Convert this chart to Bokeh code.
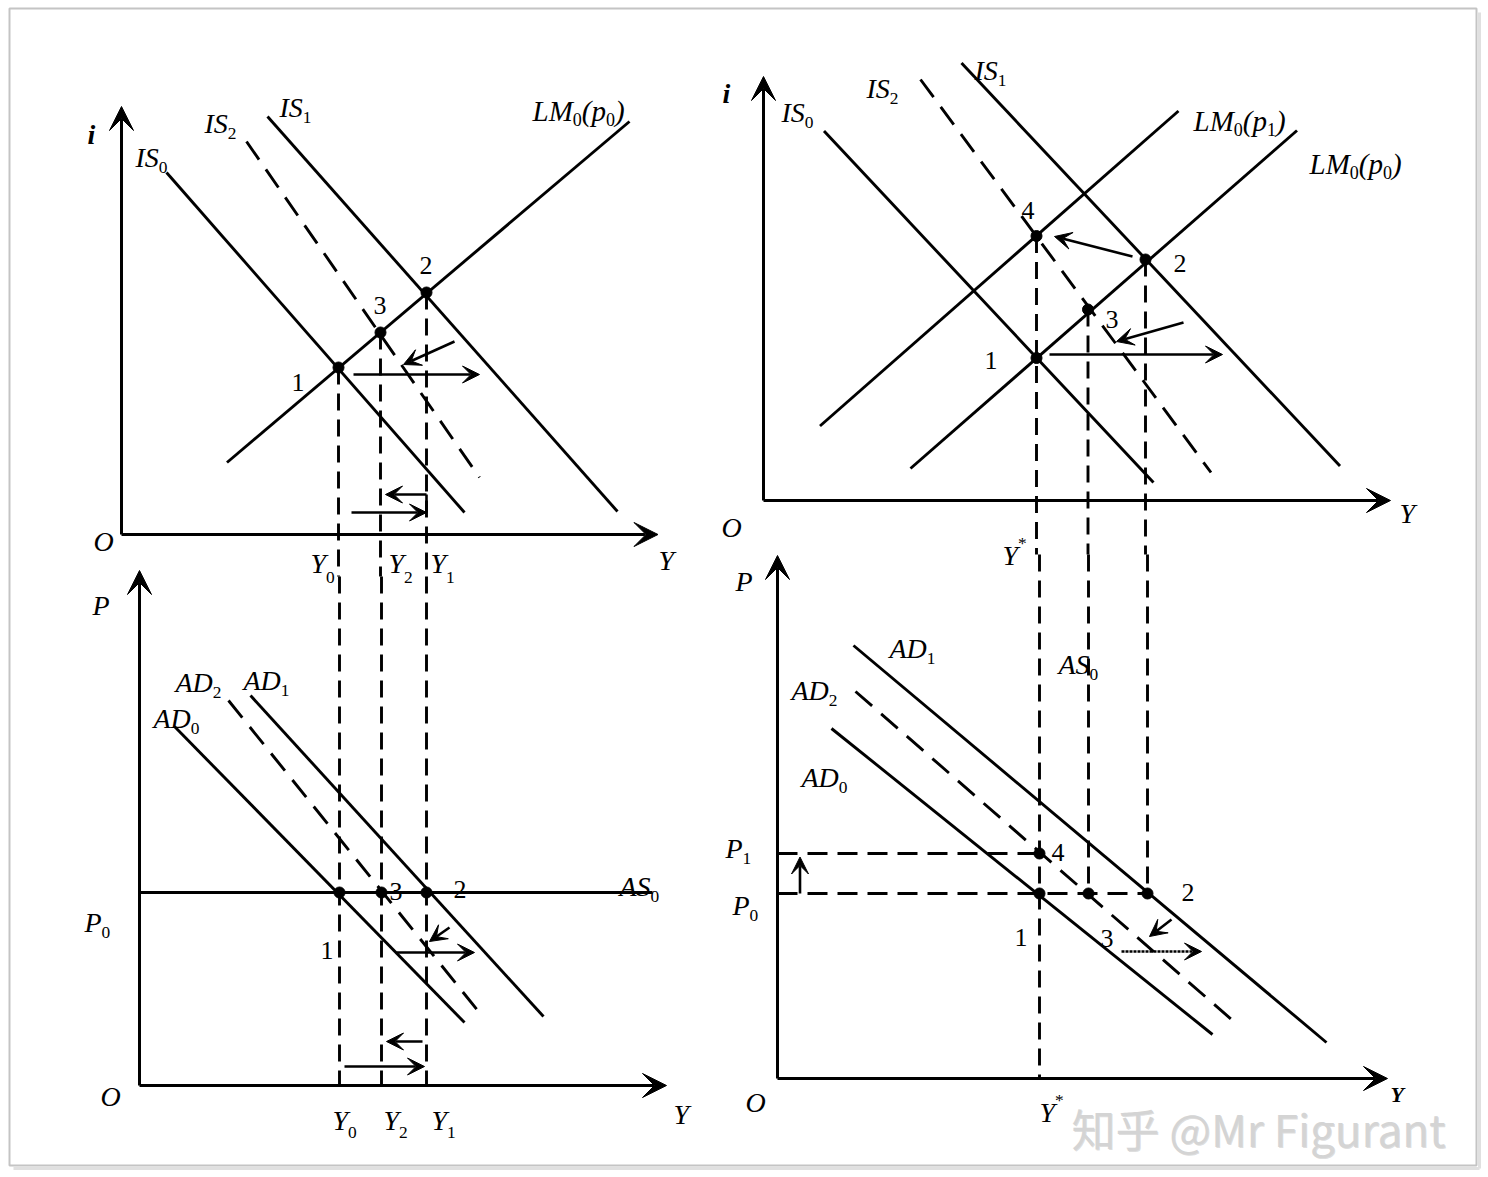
from bokeh.plotting import figure
from bokeh.models import Range1d, Arrow, VeeHead, ColumnDataSource
from bokeh.embed import file_html
from bokeh.resources import INLINE
from bokeh.core.properties import value

# ================= DATA (panel-local units) =================
# ---- Top-left: IS-LM (Keynesian case) ----
tl_is0_Y = [0.90, 6.86];  tl_is0_i = [7.24, 0.44]
tl_is1_Y = [2.92, 9.92];  tl_is1_i = [8.36, 0.46]
tl_is2_Y = [2.50, 7.16];  tl_is2_i = [7.86, 1.14]
tl_lm0_Y = [2.11, 10.16]; tl_lm0_i = [1.44, 8.26]
tl_eq_Y = [4.34, 6.10, 5.18]          # equilibria 1, 2, 3
tl_eq_i = [3.34, 4.84, 4.04]
tl_axis = [10.73, 8.56]               # Y max, i max
tl_arr_x0 = [4.64, 6.66, 6.10, 4.60]; tl_arr_y0 = [3.20, 3.86, 0.80, 0.44]
tl_arr_x1 = [7.16, 5.64, 5.28, 6.10]; tl_arr_y1 = [3.20, 3.40, 0.80, 0.44]

# ---- Bottom-left: AD-AS (horizontal AS) ----
bl_ad0_Y = [0.70, 6.50]; bl_ad0_P = [7.18, 1.26]
bl_ad1_Y = [2.22, 8.08]; bl_ad1_P = [7.80, 1.38]
bl_ad2_Y = [1.78, 6.78]; bl_ad2_P = [7.70, 1.48]
bl_as0_Y = [0.00, 10.26]; bl_P0 = 3.86
bl_eq_Y = [4.00, 5.74, 4.84]          # equilibria 1, 2, 3
bl_axis = [10.54, 10.30]
bl_arr_x0 = [5.14, 6.20, 5.66, 4.10]; bl_arr_y0 = [2.66, 3.16, 0.88, 0.38]
bl_arr_x1 = [6.70, 5.80, 4.94, 5.70]; bl_arr_y1 = [2.66, 2.88, 0.88, 0.38]

# ---- Top-right: IS-LM (classical case) ----
tr_is0_Y = [1.21, 7.80];  tr_is0_i = [7.39, 0.36]
tr_is1_Y = [3.96, 11.53]; tr_is1_i = [8.75, 0.69]
tr_is2_Y = [3.14, 8.95];  tr_is2_i = [8.42, 0.56]
tr_lm1_Y = [1.13, 8.30];  tr_lm1_i = [1.49, 7.79]
tr_lm0_Y = [2.94, 10.67]; tr_lm0_i = [0.64, 7.40]
tr_eq_Y = [5.46, 7.64, 6.49, 5.46]    # equilibria 1, 2, 3, 4
tr_eq_i = [2.85, 4.82, 3.82, 5.29]
tr_axis = [12.54, 8.48]
tr_arr_x0 = [7.38, 5.72, 8.40]; tr_arr_y0 = [4.88, 2.92, 3.56]
tr_arr_x1 = [5.82, 9.18, 7.06]; tr_arr_y1 = [5.28, 2.92, 3.18]

# ---- Bottom-right: AD-AS (vertical AS) ----
br_ad1_Y = [1.52, 10.98]; br_ad1_P = [8.66, 0.72]
br_ad2_Y = [1.56, 9.08];  br_ad2_P = [7.74, 1.18]
br_ad0_Y = [1.08, 8.70];  br_ad0_P = [7.00, 0.88]
br_eq_Y = [5.24, 7.40, 6.22, 5.24]    # equilibria 1, 2, 3, 4
br_eq_P = [3.70, 3.70, 3.70, 4.50]
br_P0 = 3.70; br_P1 = 4.50
br_axis = [12.20, 10.46]
br_arr_x0 = [0.45, 7.88]; br_arr_y0 = [3.70, 3.18]
br_arr_x1 = [0.45, 7.44]; br_arr_y1 = [4.43, 2.84]
br_dot_arr = ([6.88, 8.48], [2.54, 2.54])

# ================= LAYOUT =================
W, H = 1484, 1172
X0, Y0 = 1, 1
S = 50.0  # px per unit
panels = {"tl": (122, 535), "bl": (140, 1086), "tr": (764, 501), "br": (778, 1079)}

p = figure(width=W, height=H, x_range=Range1d(X0, X0 + W), y_range=Range1d(Y0 + H, Y0),
           output_backend="svg", toolbar_location=None, min_border=0,
           x_axis_type=None, y_axis_type=None, outline_line_color=None)
p.background_fill_color = "white"
p.border_fill_color = "white"

for k, (ox, oy) in panels.items():
    p.extra_x_ranges[k + "x"] = Range1d((X0 - ox) / S, (X0 + W - ox) / S)
    p.extra_y_ranges[k + "y"] = Range1d((oy - (Y0 + H)) / S, (oy - Y0) / S)

LW = 2.9
VDASH = "17 9"
CDASH = "22 12"


def seg(k, xs, ys, dash=None, lw=LW):
    kw = dict(x_range_name=k + "x", y_range_name=k + "y", line_color="black", line_width=lw)
    if dash:
        kw["line_dash"] = dash
    p.line(xs, ys, **kw)


def arrows(k, x0, y0, x1, y1, size=17, dash=None, lw=2.6):
    for a, b, c, d in zip(x0, y0, x1, y1):
        ar = Arrow(x_start=a, y_start=b, x_end=c, y_end=d,
                   end=VeeHead(size=size, fill_color="black", line_color="black", line_width=1),
                   line_width=lw, line_color="black",
                   x_range_name=k + "x", y_range_name=k + "y")
        if dash:
            ar.line_dash = dash
        p.add_layout(ar)


def axes(k, ax):
    arrows(k, [0, 0], [0, 0], [ax[0], 0], [0, ax[1]], size=24, lw=3.0)


def dots(k, xs, ys):
    p.scatter(xs, ys, size=11, color="black", x_range_name=k + "x", y_range_name=k + "y")


# frame with soft shadow
p.line([1480, 1480], [13, 1169], line_color="#e0e0e0", line_width=3)
p.line([14, 1480], [1169, 1169], line_color="#e0e0e0", line_width=3)
p.quad(left=10, right=1477, top=9, bottom=1166, fill_color=None, line_color="#c4c4c4", line_width=2)

# ---- top-left ----
axes("tl", tl_axis)
seg("tl", tl_is0_Y, tl_is0_i)
seg("tl", tl_is1_Y, tl_is1_i)
seg("tl", tl_is2_Y, tl_is2_i, dash=CDASH)
seg("tl", tl_lm0_Y, tl_lm0_i)
for x, y in zip(tl_eq_Y, tl_eq_i):
    seg("tl", [x, x], [y, -0.84], dash=VDASH)
seg("tl", [tl_arr_x0[2], tl_arr_x0[2]], [tl_arr_y0[2], tl_arr_y0[3]], lw=2.6)
arrows("tl", tl_arr_x0, tl_arr_y0, tl_arr_x1, tl_arr_y1)
dots("tl", tl_eq_Y, tl_eq_i)

# ---- bottom-left ----
axes("bl", bl_axis)
seg("bl", bl_as0_Y, [bl_P0, bl_P0])
seg("bl", bl_ad0_Y, bl_ad0_P)
seg("bl", bl_ad1_Y, bl_ad1_P)
seg("bl", bl_ad2_Y, bl_ad2_P, dash=CDASH)
for x in bl_eq_Y:
    seg("bl", [x, x], [10.18, 0], dash=VDASH)
arrows("bl", bl_arr_x0, bl_arr_y0, bl_arr_x1, bl_arr_y1)
dots("bl", bl_eq_Y, [bl_P0] * 3)

# ---- top-right ----
axes("tr", tr_axis)
seg("tr", tr_is0_Y, tr_is0_i)
seg("tr", tr_is1_Y, tr_is1_i)
seg("tr", tr_is2_Y, tr_is2_i, dash=CDASH)
seg("tr", tr_lm1_Y, tr_lm1_i)
seg("tr", tr_lm0_Y, tr_lm0_i)
for x, y in zip(tr_eq_Y[1:], tr_eq_i[1:]):
    seg("tr", [x, x], [y, -1.08], dash=VDASH)
arrows("tr", tr_arr_x0, tr_arr_y0, tr_arr_x1, tr_arr_y1)
dots("tr", tr_eq_Y, tr_eq_i)

# ---- bottom-right ----
axes("br", br_axis)
seg("br", br_ad1_Y, br_ad1_P)
seg("br", br_ad2_Y, br_ad2_P, dash=CDASH)
seg("br", br_ad0_Y, br_ad0_P)
seg("br", [br_eq_Y[0], br_eq_Y[0]], [10.48, 0], dash=VDASH)
seg("br", [br_eq_Y[2], br_eq_Y[2]], [10.48, br_P0], dash=VDASH)
seg("br", [br_eq_Y[1], br_eq_Y[1]], [10.48, br_P0], dash=VDASH)
seg("br", [0, br_eq_Y[0]], [br_P1, br_P1], dash="20 10")
seg("br", [0, br_eq_Y[1]], [br_P0, br_P0], dash="20 10")
arrows("br", br_arr_x0, br_arr_y0, br_arr_x1, br_arr_y1)
arrows("br", [br_dot_arr[0][0]], [br_dot_arr[1][0]], [br_dot_arr[0][1]], [br_dot_arr[1][1]], dash="3 1")
dots("br", br_eq_Y, br_eq_P)

# ================= TEXT =================
CW = {'I': .333, 'S': .5, 'L': .556, 'M': .833, 'A': .611, 'D': .722, 'Y': .556, 'P': .611,
      'O': .722, 'i': .278, 'p': .5, '(': .333, ')': .333, '*': .5}
srcs = {"italic": dict(x=[], y=[], t=[], fs=[]), "normal": dict(x=[], y=[], t=[], fs=[]),
        "bold italic": dict(x=[], y=[], t=[], fs=[])}


def lab(x, y, parts, size=28, style="italic", sub=0.36):
    cx = x
    for txt, kind in parts:
        fs = size if kind == 'n' else size * 0.62
        dy = 0 if kind == 'n' else (size * sub if kind == 's' else -size * 0.45)
        st = style if kind == 'n' else "normal"
        d = srcs[st]
        d["x"].append(cx); d["y"].append(y + dy); d["t"].append(txt); d["fs"].append("%.1fpx" % fs)
        cx += sum(CW.get(c, .5) for c in txt) * fs


def IS(x, y, n):
    lab(x, y, [("IS", 'n'), (n, 's')])


def AD(x, y, n):
    lab(x, y, [("AD", 'n'), (n, 's')])


def LM(x, y, n):
    lab(x, y, [("LM", 'n'), ("0", 's'), ("(p", 'n'), (n, 's'), (")", 'n')], size=29, sub=0.3)


def num(x, y, t):
    lab(x, y, [(t, 'n')], size=26, style="normal")


# top-left
lab(88, 135, [("i", 'n')], style="bold italic")
IS(136, 158, "0"); IS(205, 124, "2"); IS(280, 108, "1")
LM(533, 111, "0")
lab(94, 542, [("O", 'n')]); lab(659, 561, [("Y", 'n')])
for xx, n in [(311, "0"), (389, "2"), (431, "1")]:
    lab(xx, 564, [("Y", 'n'), (n, 's')], sub=0.5)
num(292, 383, "1"); num(420, 266, "2"); num(374, 306, "3")

# top-right
lab(723, 94, [("i", 'n')], style="bold italic")
IS(782, 113, "0"); IS(867, 89, "2"); IS(975, 71, "1")
LM(1194, 121, "1"); LM(1310, 164, "0")
num(1022, 211, "4"); num(1174, 264, "2"); num(1106, 320, "3"); num(985, 361, "1")
lab(722, 528, [("O", 'n')]); lab(1400, 514, [("Y", 'n')])
lab(1003, 556, [("Y", 'n'), ("*", 'p')])

# bottom-left
lab(93, 606, [("P", 'n')])
AD(176, 683, "2"); AD(244, 681, "1"); AD(154, 719, "0")
lab(620, 887, [("AS", 'n'), ("0", 's')])
lab(85, 923, [("P", 'n'), ("0", 's')])
num(390, 892, "3"); num(454, 890, "2"); num(321, 951, "1")
lab(101, 1097, [("O", 'n')]); lab(674, 1115, [("Y", 'n')])
for xx, n in [(333, "0"), (384, "2"), (432, "1")]:
    lab(xx, 1121, [("Y", 'n'), (n, 's')], sub=0.42)

# bottom-right
lab(736, 582, [("P", 'n')])
AD(890, 649, "1"); AD(792, 691, "2"); AD(802, 778, "0")
lab(1059, 665, [("AS", 'n'), ("0", 's')])
lab(726, 849, [("P", 'n'), ("1", 's')]); lab(733, 906, [("P", 'n'), ("0", 's')])
num(1052, 853, "4"); num(1182, 893, "2"); num(1015, 938, "1"); num(1101, 939, "3")
lab(746, 1103, [("O", 'n')]); lab(1040, 1113, [("Y", 'n'), ("*", 'p')])
lab(1391, 1095, [("Y", 'n')], size=22, style="bold italic")

for style, d in srcs.items():
    p.text(x="x", y="y", text="t", text_font_size="fs", source=ColumnDataSource(d),
           text_font=value("Liberation Serif"), text_font_style=style,
           text_baseline="alphabetic", text_align="left", text_color="black")

# watermark
p.text(x=[1073], y=[1129], text=["知乎 @Mr Figurant"], text_font=value("Noto Sans CJK SC"),
       text_font_size="44px", text_color="#a0a0a0", text_alpha=0.35, text_baseline="alphabetic")
p.text(x=[1072], y=[1128], text=["知乎 @Mr Figurant"], text_font=value("Noto Sans CJK SC"),
       text_font_size="44px", text_color="#d4d4d4", text_baseline="alphabetic")

open("out.html", "w").write(file_html(p, INLINE))
